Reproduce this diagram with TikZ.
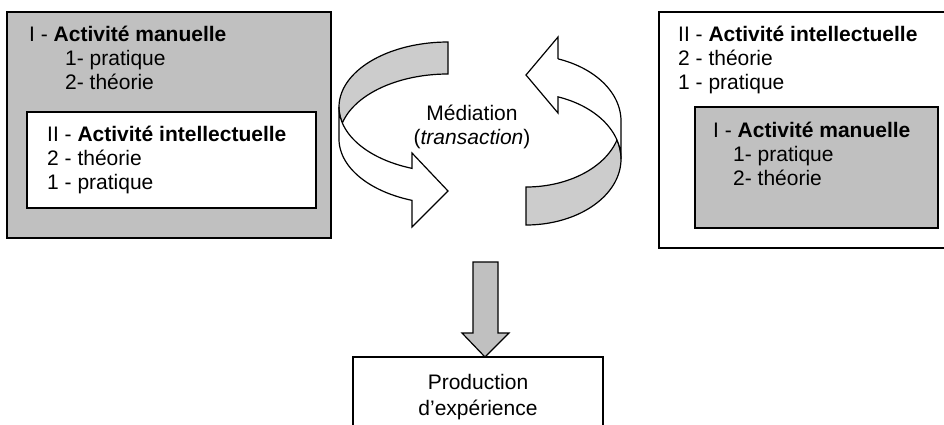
\documentclass[tikz,border=0pt]{standalone}
\usepackage{fontspec}
\setmainfont{Liberation Sans}
\definecolor{boxgray}{HTML}{C0C0C0}
\definecolor{bandgray}{HTML}{CCCCCC}
\begin{document}
\begin{tikzpicture}[x=1pt,y=-1pt,
  txt/.style={anchor=base west, inner sep=0pt, font=\fontsize{21}{24}\selectfont},
  ctxt/.style={anchor=base, inner sep=0pt, font=\fontsize{21}{24}\selectfont},
  graybox/.style={draw=black, line width=1.7pt, fill=boxgray},
  whitebox/.style={draw=black, line width=1.7pt, fill=white},
  darkband/.style={draw=black, line width=1.2pt, fill=bandgray, line join=miter},
  litband/.style={draw=black, line width=1.2pt, fill=white, line join=miter},
  downarrow/.style={draw=black, line width=1.2pt, fill=boxgray, line join=miter}]
\useasboundingbox (0,0) rectangle (944,424);
\clip (0,0) rectangle (944,424);
\fill[white] (0,0) rectangle (944,424);

% ---- left box
\draw[graybox] (7,12) rectangle (331,238);
\node[txt] (lh) at (29,41) {I - \textbf{Activité manuelle}};
\node[txt] (lp) at (65,65) {1- pratique};
\node[txt] (lt) at (65,89) {2- théorie};
\draw[whitebox] (27,112) rectangle (316,208);
\node[txt] (lih) at (47,141) {II - \textbf{Activité intellectuelle}};
\node[txt] (lit) at (47,165) {2 - théorie};
\node[txt] (lip) at (47,189) {1 - pratique};

% ---- right box
\draw[whitebox] (659,12) rectangle (946,248);
\node[txt] (rh) at (678,41) {II - \textbf{Activité intellectuelle}};
\node[txt] (rt) at (678,65) {2 - théorie};
\node[txt] (rp) at (678,89) {1 - pratique};
\draw[graybox] (695,107) rectangle (938,228);
\node[txt] (rih) at (713,137) {I - \textbf{Activité manuelle}};
\node[txt] (rip) at (733,161) {1- pratique};
\node[txt] (rit) at (733,185) {2- théorie};

% ---- left curved arrow
\draw[darkband] plot[domain=270:165.75,samples=50] ({448+109*cos(\x)},{107+65*sin(\x)})
  -- plot[domain=194.25:270,samples=50] ({448+109*cos(\x)},{139+65*sin(\x)}) -- cycle;
\draw[litband] plot[domain=180:109.29,samples=50] ({448+109*cos(\x)},{107+65*sin(\x)})
  -- (412,153) -- (448,191) -- (412,227) -- (412,200.4)
  -- plot[domain=109.29:180,samples=50] ({448+109*cos(\x)},{139+65*sin(\x)}) -- cycle;

% ---- right curved arrow
\draw[darkband] plot[domain=90:-16.73,samples=50] ({526+95*cos(\x)},{159+66*sin(\x)})
  -- plot[domain=16.73:90,samples=50] ({526+95*cos(\x)},{121+66*sin(\x)}) -- cycle;
\draw[litband] plot[domain=0:-70.31,samples=50] ({526+95*cos(\x)},{159+66*sin(\x)})
  -- (558,113) -- (526,75) -- (558,37) -- (558,58.9)
  -- plot[domain=-70.31:0,samples=50] ({526+95*cos(\x)},{121+66*sin(\x)}) -- cycle;

% ---- centre label
\node[ctxt] (med) at (472,120) {Médiation};
\node[ctxt] (tra) at (472,144) {(\textit{transaction})};

% ---- bottom box and arrow
\draw[whitebox] (353,357) rectangle (603,440);
\coordinate (prodtop) at (485,357);
\node[ctxt] (prod1) at (478,389) {Production};
\node[ctxt] (prod2) at (478,415) {d’expérience};
\draw[downarrow] (473,262) -- (498,262) -- (498,333) -- (509,333) -- (prodtop) -- (462,333) -- (473,333) -- cycle;
\end{tikzpicture}
\end{document}
